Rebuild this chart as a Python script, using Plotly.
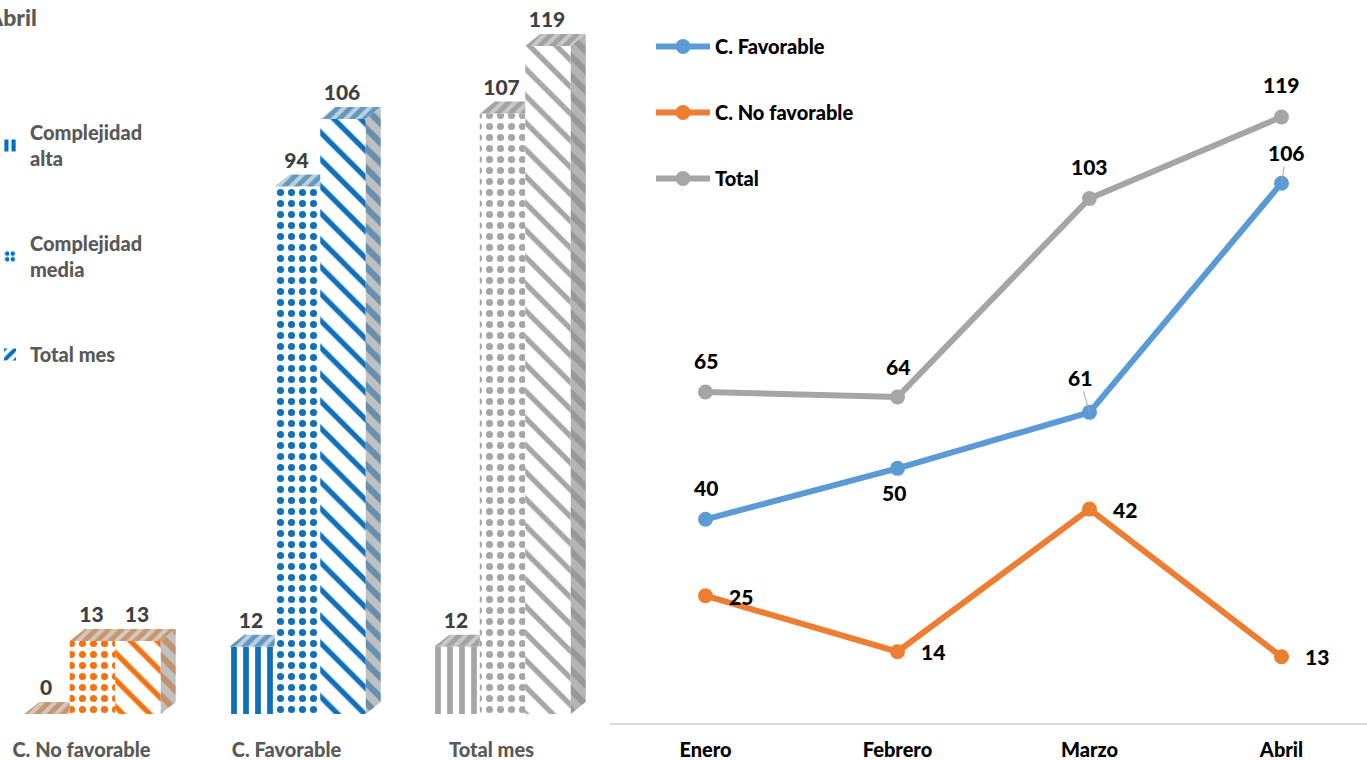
import plotly.graph_objects as go

# ---------- data: left chart ----------
bar_categories = ["C. No favorable", "C. Favorable", "Total mes"]
complejidad_alta = [0, 12, 12]
complejidad_media = [13, 94, 107]
total_mes = [13, 106, 119]
bar_series_names = ["Complejidad<br>alta", "Complejidad<br>media", "Total mes"]

# ---------- data: right chart ----------
months = ["Enero", "Febrero", "Marzo", "Abril"]
c_favorable = [40, 50, 61, 106]
c_no_favorable = [25, 14, 42, 13]
total = [65, 64, 103, 119]

# ---------- styles ----------
FONT = "Lato"
WEIGHT = 900
W, H = 1367, 760
front_colors = ["#F4730F", "#0F70BC", "#A6A6A6"]
dark_colors = ["#C0611B", "#0B5E9E", "#7C7C7C"]
light_colors = ["#D2C8BE", "#BCD0DF", "#C8C8C8"]
shapes_pat = ["|", ".", "\\"]
pat_size = [12, 11, 19]
pat_sol = [0.48, 0.33, 0.28]
line_colors = ["#5B9BD5", "#ED7D31", "#A5A5A5"]

# left chart geometry (category units / value units)
px_x = 205.0
px_y = 5.613
BW = 45.5 / px_x
DX = 15 / px_x
DY = 12 / px_y
LABEL_UP = 24 / px_y

fig = go.Figure()
series = [complejidad_alta, complejidad_media, total_mes]
positions = list(range(len(bar_categories)))

for s, vals in enumerate(series):
    off = (s - 1.5) * BW
    fig.add_trace(go.Bar(
        x=positions, y=vals, width=BW, offset=off, name=bar_series_names[s],
        showlegend=False, hoverinfo="skip",
        marker=dict(color="white", line_width=0,
                    pattern=dict(shape=shapes_pat[s], fgcolor=front_colors, bgcolor="white",
                                 size=pat_size[s], solidity=pat_sol[s], fillmode="replace")),
        xaxis="x", yaxis="y"))

# legend swatches (blue as in the reference)
for s in range(3):
    fig.add_trace(go.Bar(
        x=[0], y=[None], name=bar_series_names[s], legend="legend", legendgroup=f"b{s}",
        marker=dict(color="white", line_width=0,
                    pattern=dict(shape=["|", ".", "/"][s], fgcolor="#0070C0", bgcolor="white",
                                 size=[9, 7, 12][s], solidity=[0.6, 0.5, 0.5][s], fgopacity=1)),
        xaxis="x", yaxis="y"))

# 3-D faces derived from the values
for s, vals in enumerate(series):
    for c, v in enumerate(vals):
        x0 = c + (s - 1.5) * BW
        x1 = x0 + BW
        right = x1 + DX
        if s < 2 and series[s + 1][c] > v:
            right = x1
        if right == x1:
            px = [x0, x0 + DX, x1, x1, x0]
            py = [v, v + DY, v + DY, v, v]
        else:
            px = [x0, x0 + DX, x1 + DX, x1, x0]
            py = [v, v + DY, v + DY, v, v]
        fig.add_trace(go.Scatter(
            x=px, y=py, mode="none", fill="toself", showlegend=False, hoverinfo="skip",
            fillcolor=light_colors[c],
            fillpattern=dict(shape="/", fgcolor=dark_colors[c], bgcolor=light_colors[c],
                             size=9, solidity=0.55),
            xaxis="x", yaxis="y"))
for c, v in enumerate(total_mes):
    x1 = c + 1.5 * BW
    fig.add_trace(go.Scatter(
        x=[x1, x1 + DX, x1 + DX, x1, x1], y=[0, DY, v + DY, v, 0],
        mode="none", fill="toself", showlegend=False, hoverinfo="skip",
        fillcolor=light_colors[c] if c < 2 else "#B4B4B4",
        fillpattern=dict(shape="\\", fgcolor=dark_colors[c],
                         bgcolor="#C0C0C0" if c < 2 else "#B4B4B4", size=14, solidity=0.45),
        xaxis="x", yaxis="y"))

# bar value labels
for s, vals in enumerate(series):
    fig.add_trace(go.Scatter(
        x=[c + (s - 1) * BW - 1 / px_x for c in positions],
        y=[v + LABEL_UP for v in vals],
        mode="text", text=[str(v) for v in vals], textposition="middle center",
        textfont=dict(family=FONT, size=21, color="#404040", weight=WEIGHT),
        showlegend=False, hoverinfo="skip", cliponaxis=False, xaxis="x", yaxis="y"))

# line chart
for name, vals, col, g in zip(["C. Favorable", "C. No favorable", "Total"],
                              [c_favorable, c_no_favorable, total], line_colors, "abc"):
    fig.add_trace(go.Scatter(
        x=months, y=vals, name=name, mode="lines+markers", legend="legend2", legendgroup=g,
        line=dict(color=col, width=6), marker=dict(color=col, size=15),
        xaxis="x2", yaxis="y2"))

# line labels: offsets in pixels per series
ann = []
label_font = dict(family=FONT, size=21, color="#000000", weight=WEIGHT)
offsets = {
    "fav": [(0, -32), (-4, 24), (-10, -35), (5, -31)],
    "nof": [(35, 1), (35, 0), (35, 0), (35, 0)],
    "tot": [(0, -31), (0, -31), (0, -32), (0, -32)],
}
for key, vals in [("tot", total), ("fav", c_favorable), ("nof", c_no_favorable)]:
    for m, v, (dx, dy) in zip(months, vals, offsets[key]):
        leader = key == "fav" and v in (61, 106)
        if leader:
            ann.append(dict(xref="x2", yref="y2", x=m, y=v, text=str(v), font=label_font,
                            showarrow=True, arrowhead=0, arrowwidth=1, arrowcolor="#A6A6A6",
                            axref="pixel", ayref="pixel", ax=dx, ay=dy, standoff=0))
        else:
            ann.append(dict(xref="x2", yref="y2", x=m, y=v, text=str(v), font=label_font,
                            showarrow=False, xshift=dx, yshift=-dy))

ann.append(dict(xref="paper", yref="paper", x=39 / W, y=1 - 17 / H, xanchor="right", yanchor="middle",
                text="Abril", showarrow=False,
                font=dict(family=FONT, size=23, color="#595959", weight=WEIGHT)))

fig.update_layout(
    width=W, height=H, margin=dict(l=0, r=0, t=0, b=0, autoexpand=False),
    paper_bgcolor="white", plot_bgcolor="white",
    barmode="overlay", annotations=ann, hovermode=False,
    xaxis=dict(domain=[0, 610 / W], range=[(0 - 92.5) / px_x, (610 - 92.5) / px_x], automargin=False,
               tickmode="array", tickvals=[c - 11 / px_x for c in positions], ticktext=bar_categories,
               tickfont=dict(family=FONT, size=20, color="#595959", weight=WEIGHT),
               showgrid=False, zeroline=False, showline=False,
               ticks="outside", ticklen=18, tickcolor="rgba(0,0,0,0)"),
    yaxis=dict(domain=[(H - 714) / H, 1], range=[0, 714 / px_y], visible=False, automargin=False),
    xaxis2=dict(domain=[610 / W, 1], anchor="y2", type="category", categoryorder="array", automargin=False,
                categoryarray=months, range=[(610 - 705.5) / 192, (1367 - 705.5) / 192],
                tickfont=dict(family=FONT, size=20, color="#000000", weight=WEIGHT),
                showgrid=False, zeroline=False, showline=True, linecolor="#D9D9D9", linewidth=2,
                ticks="outside", ticklen=8, tickcolor="rgba(0,0,0,0)"),
    yaxis2=dict(domain=[(H - 723) / H, 1], range=[0, 723.2 / 5.094], anchor="x2", visible=False, automargin=False),
    legend=dict(x=-10 / W, y=1 - 113 / H, xanchor="left", yanchor="top", traceorder="grouped",
                tracegroupgap=56, bgcolor="rgba(0,0,0,0)",
                font=dict(family=FONT, size=20, color="#595959", weight=WEIGHT)),
    legend2=dict(x=651 / W, y=1 - 27 / H, xanchor="left", yanchor="top", traceorder="grouped",
                 itemwidth=54, tracegroupgap=37, bgcolor="rgba(0,0,0,0)",
                 font=dict(family=FONT, size=20, color="#000000", weight=WEIGHT)),
)

fig.write_html("out.html", post_script="document.body.style.margin='0';",
               config=dict(displayModeBar=False))
